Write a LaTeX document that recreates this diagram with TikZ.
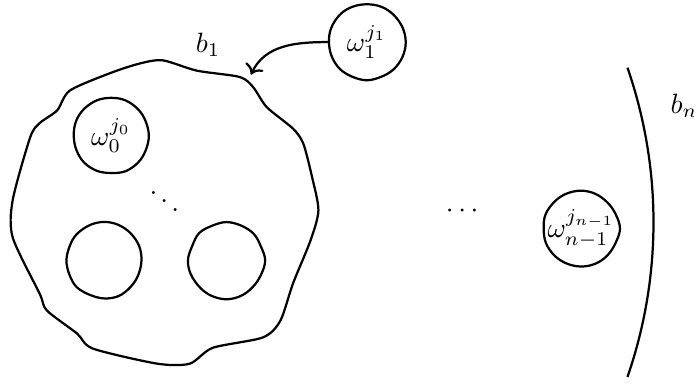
\documentclass[tikz,border=0pt]{standalone}
\usepackage{amsmath}
\usepackage{amssymb}
\usepackage{tikz}
\usetikzlibrary{
  arrows.meta,
  positioning,
  calc
}

\begin{document}
\begin{tikzpicture}[
    hole/.style={circle, inner sep=0pt, minimum size=0.96cm},
    wob/.style={thick},
    lbl/.style={inner sep=0pt, anchor=base west},
    bd/.style={thick}
  ]
    \pgfmathsetseed{11}
    \useasboundingbox (0,0) rectangle (8.74,4.83);
    % outer blob b_1
    \draw[bd] plot[smooth cycle, tension=0.45] coordinates {
      (2.05,4.07) (2.48,3.94) (3.02,3.86) (3.19,3.73) (3.36,3.48)
      (3.69,3.21) (3.82,3.02) (3.93,2.60) (4.01,2.18) (3.91,1.80)
      (3.69,1.26) (3.53,0.79) (3.31,0.58) (2.68,0.45) (2.39,0.25)
      (1.98,0.25) (1.17,0.44) (0.97,0.63) (0.59,0.92) (0.50,1.13)
      (0.16,1.84) (0.16,2.31) (0.38,3.10) (0.50,3.28) (0.72,3.44)
      (0.88,3.69) (1.39,3.91) (1.76,4.03)};
    \node[lbl] (b1) at (2.46,4.17) {$b_1$};
    \coordinate (b1in) at (3.16,3.89);
    % holes
    \node[hole] (w0) at (1.40,3.12) {$\omega_0^{j_0}$};
    \node[hole] (h1) at (1.31,1.55) {};
    \node[hole] (h2) at (2.85,1.55) {};
    \node (dd) at (2.07,2.40) {$\ddots$};
    \node[hole] (w1) at (4.62,4.30) {$\omega_1^{j_1}$};
    \node (cd) at (5.85,2.17) {$\cdots$};
    \node[hole] (wn) at (7.32,1.95) {$\omega_{n-1}^{j_{n-1}}$};
    \foreach \n in {w0,h1,h2,w1,wn}
      \draw[wob, shift={(\n.center)}] plot[smooth cycle, tension=0.6,
        domain=0:337.5, samples=16, variable=\t] (\t:{0.478+0.024*(rnd-0.5)});
    \draw[thick, ->] (w1.west) to[out=180, in=65] (b1in);
    % outer arc b_n
    \draw[thick] (2.28,2.03) ++(-19.1:5.95) arc[start angle=-19.1, end angle=19.1, radius=5.95];
    \node[lbl] (bn) at (8.44,3.40) {$b_n$};
  \end{tikzpicture}
\end{document}
